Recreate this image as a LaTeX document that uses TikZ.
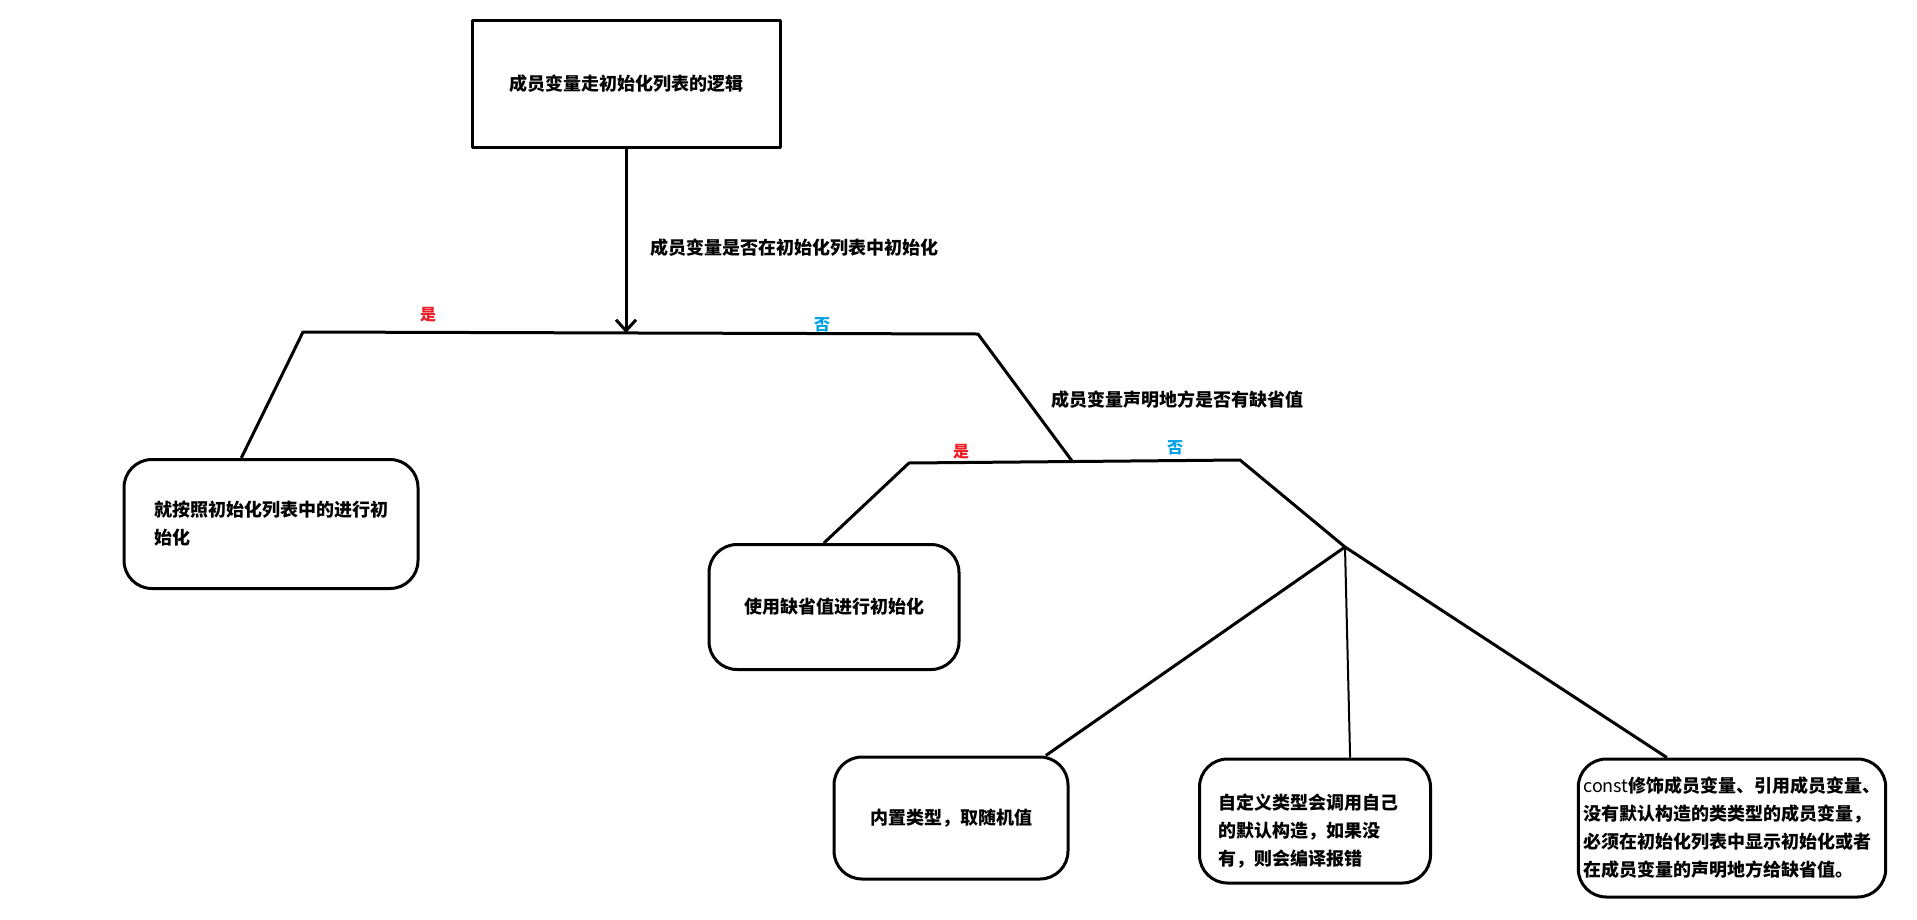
\documentclass[tikz,border=0pt]{standalone}
\usepackage{fontspec}
\setmainfont{Noto Sans CJK SC}
\usetikzlibrary{calc,arrows.meta}
\definecolor{paintred}{RGB}{237,28,36}
\definecolor{paintblue}{RGB}{0,162,232}

\begin{document}
\begin{tikzpicture}[x=1pt,y=-1pt,line width=3pt,line join=round,
    main node/.style={draw,font=\fontsize{18}{28}\selectfont\bfseries},
    leaf node/.style={main node,rounded corners=28pt,align=left},
    note/.style={anchor=west,font=\fontsize{18}{28}\selectfont\bfseries},
    yes label/.style={text=paintred,font=\fontsize{16}{16}\selectfont\bfseries},
    no label/.style={text=paintblue,font=\fontsize{16}{16}\selectfont\bfseries}]
    \useasboundingbox (0,0) rectangle (1917,919);

    % boxes
    \node[main node,minimum width=308pt,minimum height=127pt] (root) at (626,84) {成员变量走初始化列表的逻辑};
    \node[leaf node,minimum width=294pt,minimum height=129pt] (inlist) at (271,524) {就按照初始化列表中的进行初\\始化};
    \node[leaf node,minimum width=250pt,minimum height=125pt] (dflt) at (834,607) {使用缺省值进行初始化};
    \node[leaf node,minimum width=234pt,minimum height=122pt] (builtin) at (951,818) {内置类型，取随机值};
    \node[leaf node,minimum width=231pt,minimum height=124pt] (custom) at (1315,821) {};
    \node[note,anchor=north west,align=left] (custom text) at ($(custom.north west)+(16,32)$) {自定义类型会调用自己\\的默认构造，如果没\\有，则会编译报错};
    \node[leaf node,minimum width=300pt,minimum height=138pt,inner xsep=5pt] (mustinit) at (1732,828) {{\mdseries const}修饰成员变量、引用成员变量、\\没有默认构造的类类型的成员变量，\\必须在初始化列表中显示初始化或者\\在成员变量的声明地方给缺省值。};

    % branch points
    \coordinate (barL) at (303,332);
    \coordinate (barM) at (626,333);
    \coordinate (barR) at (978,334);
    \coordinate (subL) at (909,463);
    \coordinate (subM) at (1072,461);
    \coordinate (subR) at (1240,460);
    \coordinate (fork) at (1345,547);

    % labels
    \node[note] (q1) at (646,248) {成员变量是否在初始化列表中初始化};
    \node[note] (q2) at (1047,400) {成员变量声明地方是否有缺省值};
    \node[yes label] (yes1) at (428,315) {是};
    \node[no label] (no1) at (822,325) {否};
    \node[yes label] (yes2) at (961,452) {是};
    \node[no label] (no2) at (1175,448) {否};

    % connectors
    \draw[-{Straight Barb[length=11pt,width=20pt]}] (root) -- (barM);
    \draw ($(inlist.north west)!0.4!(inlist.north east)$) -- (barL) -- (barR) -- (subM);
    \draw ($(dflt.north west)!0.46!(dflt.north east)$) -- (subL) -- (subR) -- (fork);
    \draw (fork) -- ($(builtin.north west)!0.9!(builtin.north east)$);
    \draw[line width=2pt] (fork) -- ($(custom.north west)!0.65!(custom.north east)$);
    \draw (fork) -- ($(mustinit.north west)!0.29!(mustinit.north east)$);
\end{tikzpicture}
\end{document}
